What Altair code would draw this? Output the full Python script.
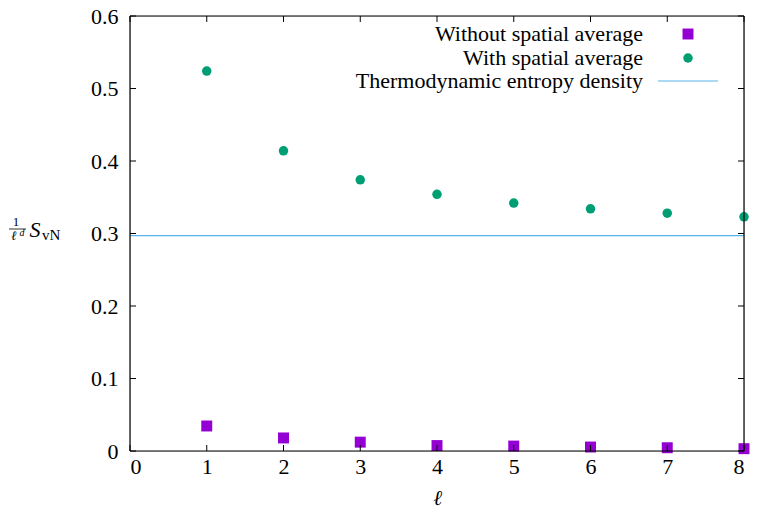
import altair as alt
import pandas as pd

ell = [1, 2, 3, 4, 5, 6, 7, 8]
without_avg = [0.0345, 0.018, 0.0122, 0.0075, 0.0068, 0.0055, 0.0045, 0.0032]
with_avg = [0.524, 0.414, 0.374, 0.354, 0.342, 0.334, 0.328, 0.323]
thermo_density = 0.297
x_ticks = [0, 1, 2, 3, 4, 5, 6, 7, 8]
y_ticks = [0, 0.1, 0.2, 0.3, 0.4, 0.5, 0.6]
legend_labels = ["Without spatial average", "With spatial average", "Thermodynamic entropy density"]

FONT = "Liberation Serif"
FS = 22
W, H = 614, 435
PL, PT = 130, 16  # page coordinates of plot origin

def px(x):
    return x - PL

def py(y):
    return y - PT

xs = alt.Scale(domain=[0, 8], nice=False)
ys = alt.Scale(domain=[0, 0.6], nice=False)

df = pd.DataFrame({"ell": ell, "without": without_avg, "with": with_avg})
one = pd.DataFrame({"a": [0]})

base = alt.Chart(df)

xaxis = alt.Axis(values=x_ticks, ticks=False, domain=False, grid=False, labelFont=FONT,
                 labelFontSize=FS, labelPadding=5, labelColor="black",
                 labelExpr="format(datum.value, 'd')", title="ℓ",
                 titleFont=FONT, titleFontSize=21, titleFontStyle="italic",
                 titleFontWeight="normal", titlePadding=10, titleColor="black")
yaxis = alt.Axis(values=y_ticks, ticks=False, domain=False, grid=False, labelFont=FONT,
                 labelFontSize=FS, labelPadding=12, labelColor="black", title=None,
                 labelExpr="datum.value == 0 ? '0' : format(datum.value, '.1f')")

def X(f):
    return alt.X(f, scale=xs, axis=xaxis, title="ℓ")

def Y(f):
    return alt.Y(f, scale=ys, axis=yaxis, title=None)

sq = base.mark_point(shape="square", filled=True, size=120, color="#9400D3", opacity=1, clip=False).encode(
    x=X("ell:Q"), y=Y("without:Q"))
circ = base.mark_circle(size=90, color="#009E73", opacity=1, clip=False).encode(
    x=X("ell:Q"), y=Y("with:Q"))
hline = alt.Chart(pd.DataFrame({"y": [thermo_density]})).mark_rule(color="#56B4E9", strokeWidth=1.2).encode(
    y=Y("y:Q"), x=alt.value(0), x2=alt.value(W))

# frame
frame = []
frame.append(alt.Chart(one).mark_rule(color="black", strokeWidth=1.2).encode(x=alt.value(0), x2=alt.value(W), y=alt.value(0)))
frame.append(alt.Chart(one).mark_rule(color="black", strokeWidth=1.2).encode(x=alt.value(0), x2=alt.value(W), y=alt.value(H)))
frame.append(alt.Chart(one).mark_rule(color="black", strokeWidth=1.2).encode(y=alt.value(0), y2=alt.value(H), x=alt.value(0)))
frame.append(alt.Chart(one).mark_rule(color="black", strokeWidth=1.2).encode(y=alt.value(0), y2=alt.value(H), x=alt.value(W)))

# inward ticks
xt = pd.DataFrame({"x": x_ticks})
yt = pd.DataFrame({"y": y_ticks})
tk = []
tk.append(alt.Chart(xt).mark_rule(color="black").encode(x=X("x:Q"), y=alt.value(H), y2=alt.value(H - 6)))
tk.append(alt.Chart(xt).mark_rule(color="black").encode(x=X("x:Q"), y=alt.value(0), y2=alt.value(6)))
tk.append(alt.Chart(yt).mark_rule(color="black").encode(y=Y("y:Q"), x=alt.value(0), x2=alt.value(6)))
tk.append(alt.Chart(yt).mark_rule(color="black").encode(y=Y("y:Q"), x=alt.value(W), x2=alt.value(W - 6)))

# legend
leg = []
rows = [34, 58, 81]
for lab, yy in zip(legend_labels, rows):
    leg.append(alt.Chart(one).mark_text(text=lab, font=FONT, fontSize=FS, align="right", baseline="middle", color="black").encode(
        x=alt.value(px(643)), y=alt.value(py(yy))))
leg.append(alt.Chart(one).mark_point(shape="square", filled=True, size=120, color="#9400D3", opacity=1).encode(
    x=alt.value(px(688)), y=alt.value(py(rows[0]))))
leg.append(alt.Chart(one).mark_circle(size=90, color="#009E73", opacity=1).encode(
    x=alt.value(px(688)), y=alt.value(py(rows[1]))))
leg.append(alt.Chart(one).mark_rule(color="#56B4E9", strokeWidth=1.2).encode(
    x=alt.value(px(658)), x2=alt.value(px(718)), y=alt.value(py(rows[2]))))

# y title: (1/ℓ^d) S_vN
yt_parts = []
yt_parts.append(alt.Chart(one).mark_text(text="1", font=FONT, fontSize=13, align="center", baseline="alphabetic", color="black").encode(
    x=alt.value(px(16)), y=alt.value(py(226))))
yt_parts.append(alt.Chart(one).mark_rule(color="black", strokeWidth=0.8).encode(
    x=alt.value(px(9)), x2=alt.value(px(26)), y=alt.value(py(229))))
yt_parts.append(alt.Chart(one).mark_text(text="ℓ", font=FONT, fontSize=13, fontStyle="italic", align="center", baseline="alphabetic", color="black").encode(
    x=alt.value(px(14)), y=alt.value(py(240))))
yt_parts.append(alt.Chart(one).mark_text(text="d", font=FONT, fontSize=10, fontStyle="italic", align="center", baseline="alphabetic", color="black").encode(
    x=alt.value(px(22)), y=alt.value(py(236))))
yt_parts.append(alt.Chart(one).mark_text(text="S", font=FONT, fontSize=22, fontStyle="italic", align="center", baseline="alphabetic", color="black").encode(
    x=alt.value(px(35)), y=alt.value(py(237))))
yt_parts.append(alt.Chart(one).mark_text(text="vN", font=FONT, fontSize=15, align="left", baseline="alphabetic", color="black").encode(
    x=alt.value(px(42)), y=alt.value(py(240))))

chart = alt.layer(hline, sq, circ, *frame, *tk, *leg, *yt_parts).properties(
    width=W, height=H,
    autosize=alt.AutoSizeParams(type="none"),
    padding={"left": PL - 8, "top": PT - 8, "right": 742 - (PL - 8) - W, "bottom": 516 - 16 - (PT - 8) - H},
).configure_view(stroke=None).configure(background="white")

chart.save("out.html", embed_options={"renderer": "svg", "actions": False})
